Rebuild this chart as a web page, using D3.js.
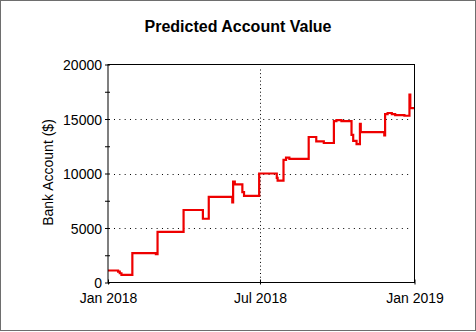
<!DOCTYPE html>
<html>
<head>
<meta charset="utf-8">
<script src="https://cdn.jsdelivr.net/npm/d3@7"></script>
<style>
  html, body { margin: 0; padding: 0; background: #fff; }
  svg { display: block; }
  text { font-family: "Liberation Sans", Arial, sans-serif; fill: #000; }
</style>
</head>
<body>
<script>
// Predicted balance: change points (date, value); held constant until the next one
const dates = [
  "2018-01-01", "2018-01-13", "2018-01-15", "2018-01-17", "2018-01-30",
  "2018-02-27", "2018-03-01", "2018-04-01", "2018-04-24", "2018-05-01",
  "2018-05-29", "2018-05-30", "2018-06-01", "2018-06-10", "2018-06-12",
  "2018-06-30", "2018-07-21", "2018-07-22", "2018-07-29", "2018-08-01",
  "2018-08-05", "2018-08-28", "2018-09-06", "2018-09-15", "2018-09-27",
  "2018-09-30", "2018-10-06", "2018-10-18", "2018-10-20", "2018-10-24",
  "2018-10-28", "2018-10-29", "2018-11-26", "2018-11-27", "2018-11-30",
  "2018-12-05", "2018-12-09", "2018-12-20", "2018-12-26", "2018-12-27",
  "2019-01-01"
];
const balance = [
  1100, 1000, 850, 700, 2700,
  2600, 4650, 6650, 5850, 7850,
  7350, 9250, 9000, 8300, 7950,
  10000, 9600, 9350, 11250, 11450,
  11350, 13350, 12950, 12800, 14800,
  14900, 14800, 13550, 13000, 12700,
  14550, 13800, 13500, 15450, 15550,
  15450, 15350, 15300, 17250, 16000,
  16000
];
const yTicks = [0, 5000, 10000, 15000, 20000];
const yMinorTicks = [2500, 7500, 12500, 17500];
const xTicks = ["2018-01-01", "2018-07-01", "2019-01-01"];
const xTickLabels = ["Jan 2018", "Jul 2018", "Jan 2019"];

const W = 476, H = 332;
const plotLeft = 108, plotRight = 414.5, plotTop = 64.5, plotBottom = 282.5;
const parse = d3.utcParse("%Y-%m-%d");

const svg = d3.select("body").append("svg").attr("width", W).attr("height", H);

// outer frame
svg.append("rect").attr("x", 0.5).attr("y", 0.5).attr("width", W - 1).attr("height", H - 2)
  .attr("fill", "#fff").attr("stroke", "#6e6e6e");

const x = d3.scaleUtc().domain([parse("2018-01-01"), parse("2019-01-01")]).range([plotLeft, plotRight]);
const y = d3.scaleLinear().domain([0, 20000]).range([plotBottom, plotTop]);

// dotted grid
const grid = svg.append("g").attr("stroke", "#000");
grid.selectAll("line.h").data(yTicks.slice(1, -1)).join("line")
  .attr("stroke-dasharray", "1,4.33")
  .attr("x1", plotLeft + 6).attr("x2", plotRight - 4)
  .attr("y1", d => Math.round(y(d)) + 0.5).attr("y2", d => Math.round(y(d)) + 0.5);
grid.selectAll("line.v").data([xTicks[1]]).join("line")
  .attr("stroke-dasharray", "1,2.7")
  .attr("x1", d => Math.round(x(parse(d))) + 0.5).attr("x2", d => Math.round(x(parse(d))) + 0.5)
  .attr("y1", plotTop + 5).attr("y2", plotBottom - 3);

// balance line
const line = d3.line()
  .x((d, i) => x(parse(dates[i])))
  .y(d => y(d))
  .curve(d3.curveStepAfter);
svg.append("path").datum(balance)
  .attr("d", line)
  .attr("fill", "none").attr("stroke", "#ee0000").attr("stroke-width", 2.2)
  .attr("stroke-linejoin", "miter");

// plot box
svg.append("rect").attr("x", plotLeft).attr("y", plotTop)
  .attr("width", plotRight - plotLeft).attr("height", plotBottom - plotTop)
  .attr("fill", "none").attr("stroke", "#000");

// y axis
const yAxis = svg.append("g").attr("transform", `translate(${plotLeft},0)`)
  .call(d3.axisLeft(y).tickValues(yTicks).tickFormat(d3.format("d")).tickSize(3).tickPadding(3));
yAxis.select(".domain").remove();
yAxis.selectAll(".tick line").attr("x1", 2).attr("x2", -3);
yAxis.selectAll(".tick text").attr("font-size", 14).attr("font-family", "Liberation Sans, Arial, sans-serif").attr("fill", "#000").attr("dy", "0.36em");

const yMinor = svg.append("g").attr("transform", `translate(${plotLeft},0)`)
  .call(d3.axisLeft(y).tickValues(yMinorTicks).tickFormat("").tickSize(3));
yMinor.select(".domain").remove();
yMinor.selectAll(".tick line").attr("x1", 2).attr("x2", -3);

// x axis
const xAxis = svg.append("g").attr("transform", `translate(0,${plotBottom})`)
  .call(d3.axisBottom(x).tickValues(xTicks.map(parse))
    .tickFormat((d, i) => xTickLabels[i]).tickSize(3).tickPadding(8));
xAxis.select(".domain").remove();
xAxis.selectAll(".tick line").attr("y1", -3).attr("y2", 2);
xAxis.selectAll(".tick text").attr("font-size", 14).attr("font-family", "Liberation Sans, Arial, sans-serif").attr("fill", "#000");

// titles
svg.append("text").attr("x", 238).attr("y", 31.5).attr("text-anchor", "middle")
  .attr("font-size", 16).attr("font-weight", "bold").text("Predicted Account Value");
svg.append("text").attr("transform", "translate(53,172.5) rotate(-90)")
  .attr("text-anchor", "middle").attr("font-size", 14).text("Bank Account ($)");
</script>
</body>
</html>
